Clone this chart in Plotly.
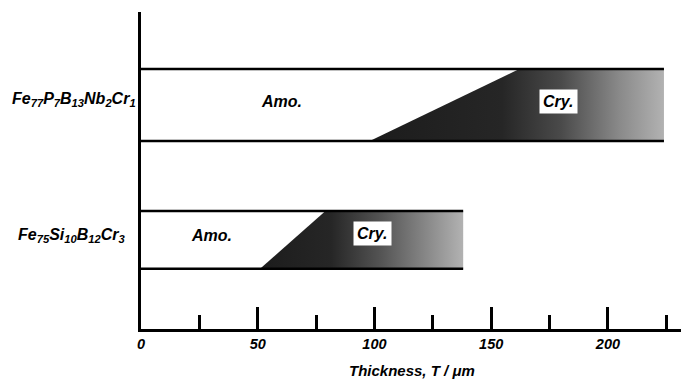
import plotly.graph_objects as go

# ---- data ----
alloys = ["Fe<sub>77</sub>P<sub>7</sub>B<sub>13</sub>Nb<sub>2</sub>Cr<sub>1</sub>",
          "Fe<sub>75</sub>Si<sub>10</sub>B<sub>12</sub>Cr<sub>3</sub>"]
total_thickness = [224, 138]      # right end of each bar (um)
cry_start_bottom = [98, 51]       # amorphous/crystal boundary at bar bottom
cry_start_top = [162, 79]         # amorphous/crystal boundary at bar top
bar_bottom = [5.93, 1.9]
bar_top = [8.2, 3.72]
amo_label_x = [60, 30]
cry_label_x = [179, 99]
x_ticks = [0, 50, 100, 150, 200]

FONT = "Arial, Liberation Sans, sans-serif"

fig = go.Figure()

# gradient scales for crystalline regions
scales = [
    [[0, "#1c1c1c"], [0.45, "#262626"], [0.65, "#4a4a4a"], [0.85, "#8a8a8a"], [1, "#b2b2b2"]],
    [[0, "#1c1c1c"], [0.35, "#262626"], [0.6, "#555555"], [0.85, "#8f8f8f"], [1, "#b2b2b2"]],
]

for i in range(len(alloys)):
    fig.add_trace(go.Scatter(
        x=[cry_start_bottom[i], cry_start_top[i], total_thickness[i], total_thickness[i], cry_start_bottom[i]],
        y=[bar_bottom[i], bar_top[i], bar_top[i], bar_bottom[i], bar_bottom[i]],
        mode="lines", line=dict(width=0, color="rgba(0,0,0,0)"),
        fill="toself",
        fillgradient=dict(type="horizontal", colorscale=scales[i]),
        hoverinfo="skip", showlegend=False,
    ))
    fig.add_trace(go.Scatter(
        x=[0, total_thickness[i], None, 0, total_thickness[i]],
        y=[bar_top[i], bar_top[i], None, bar_bottom[i], bar_bottom[i]],
        mode="lines", line=dict(color="black", width=2.5),
        hoverinfo="skip", showlegend=False,
    ))
    mid = (bar_top[i] + bar_bottom[i]) / 2
    fig.add_annotation(x=0, y=mid, xref="x", yref="y", text=alloys[i],
                       xanchor="right", yanchor="middle", xshift=-3 - 10 * i, yshift=6 - 2 * i,
                       showarrow=False,
                       font=dict(family=FONT, size=16, color="black", weight="bold", style="italic"))
    fig.add_annotation(x=amo_label_x[i], y=mid, text="Amo.", showarrow=False,
                       yshift=4,
                       font=dict(family=FONT, size=16, color="black", weight="bold", style="italic"))
    fig.add_annotation(x=cry_label_x[i], y=mid, text="Cry.", showarrow=False,
                       yshift=4 if i == 0 else 6,
                       bgcolor="white", borderpad=3,
                       font=dict(family=FONT, size=16, color="black", weight="bold", style="italic"))

fig.add_annotation(x=116, y=0, xref="x", yref="paper", yshift=-41, text="Thickness, <i>T</i> / μm",
                   showarrow=False, yanchor="middle",
                   font=dict(family=FONT, size=15, color="black", weight="bold", style="italic"))

fig.update_layout(
    width=681, height=380,
    margin=dict(l=141, r=0, t=12, b=51),
    plot_bgcolor="white", paper_bgcolor="white",
    xaxis=dict(range=[0, 231.3], tickvals=x_ticks, ticks="inside", ticklen=22, tickwidth=2.5,
               tickcolor="black", showline=True, linecolor="black", linewidth=2.5,
               showgrid=False, zeroline=False,
               minor=dict(ticks="inside", ticklen=14, tickwidth=2.5, tickcolor="black", dtick=25, tick0=0),
               tickfont=dict(family=FONT, size=14.5, color="black", weight="bold", style="italic")),
    yaxis=dict(range=[0, 10], showline=True, linecolor="black", linewidth=2.5,
               showgrid=False, zeroline=False, showticklabels=False, ticks=""),
)

fig.write_html("out.html", config={"displayModeBar": False},
               post_script="document.body.style.margin='0';")
